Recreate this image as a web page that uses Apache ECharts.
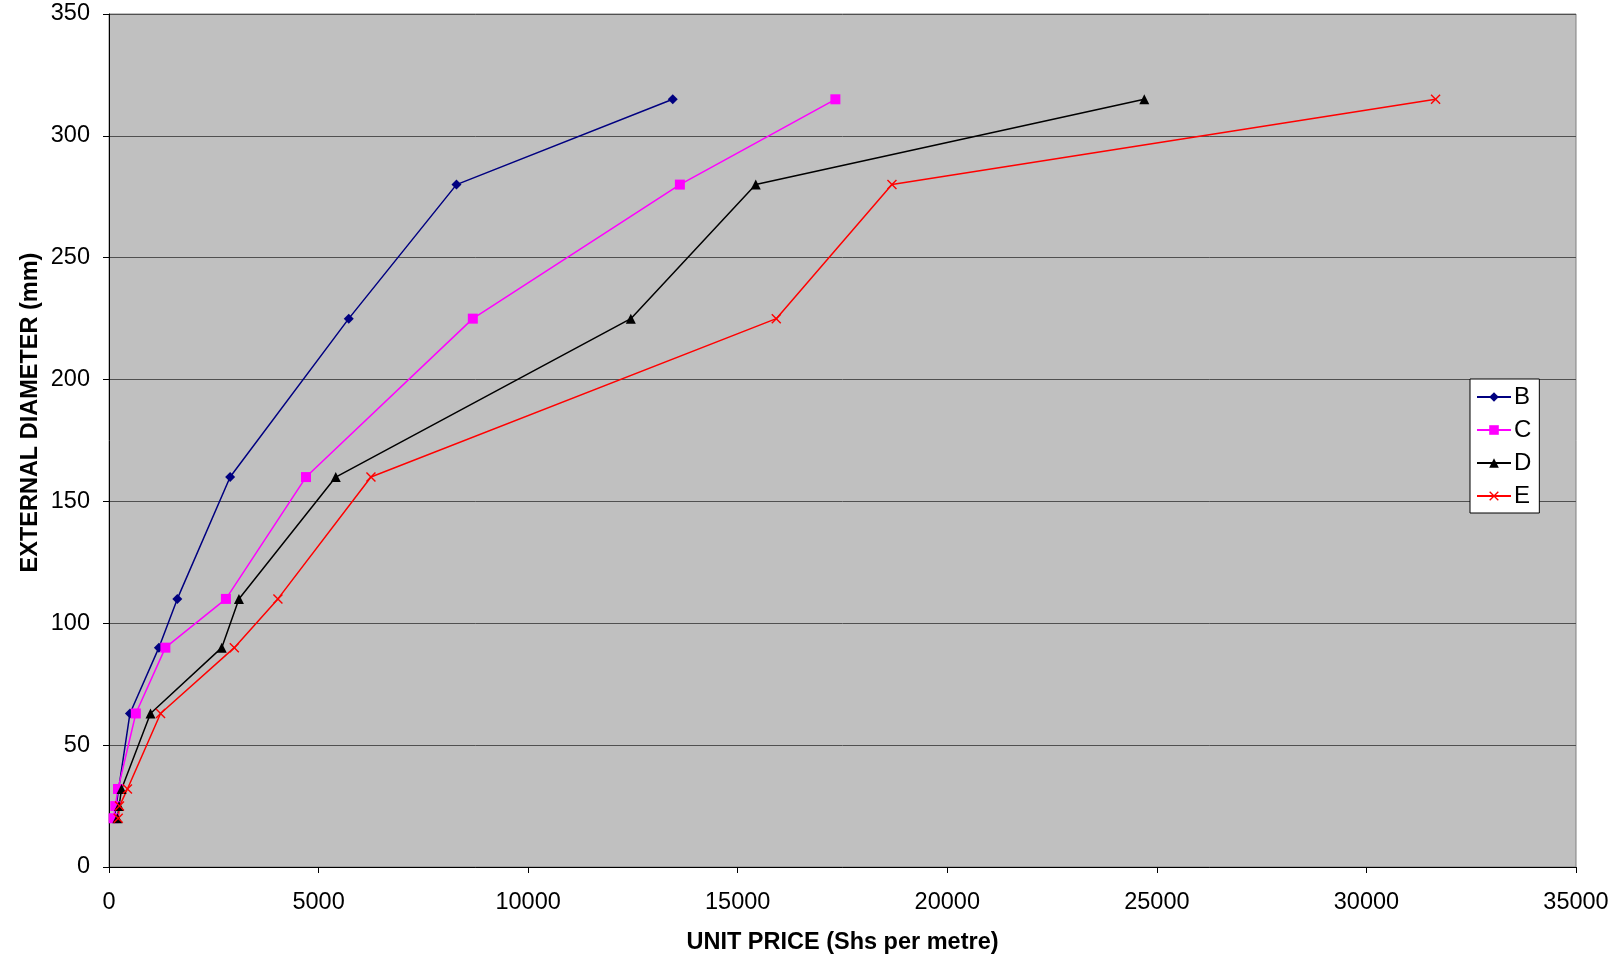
<!DOCTYPE html>
<html>
<head>
<meta charset="utf-8">
<title>External diameter vs unit price</title>
<script src="https://cdn.jsdelivr.net/npm/echarts@6/dist/echarts.min.js"></script>
<style>
  html, body { margin: 0; padding: 0; background: #fff; }
  #chart { width: 1619px; height: 960px; }
</style>
</head>
<body>
<div id="chart"></div>
<script>
// external diameters (mm), shared by every class
var diameters = [20, 25, 32, 63, 90, 110, 160, 225, 280, 315];
// unit price (Shs per metre) for each class
var priceB = [130, 170, 230, 500, 1190, 1630, 2890, 5720, 8290, 13450];
var priceC = [110, 150, 215, 640, 1345, 2790, 4700, 8680, 13620, 17330];
var priceD = [200, 240, 300, 990, 2690, 3100, 5410, 12450, 15430, 24700];
var priceE = [220, 250, 440, 1230, 2990, 4030, 6250, 15920, 18680, 31650];
var xTicks = [0, 5000, 10000, 15000, 20000, 25000, 30000, 35000];
var yTicks = [0, 50, 100, 150, 200, 250, 300, 350];

var font = 'Liberation Sans, Arial, sans-serif';

function pairs (xs) {
  return xs.map(function (x, i) { return [x, diameters[i]]; });
}

// filled "x" shape (excel style cross marker)
var crossPath = 'path://M1,0L5,4L9,0L10,1L6,5L10,9L9,10L5,6L1,10L0,9L4,5L0,1Z';

function makeSeries (name, data, color, symbol, size) {
  return {
    name: name,
    type: 'line',
    data: pairs(data),
    symbol: symbol,
    symbolSize: size,
    showSymbol: true,
    animation: false,
    lineStyle: { color: color, width: 1.5 },
    itemStyle: { color: color }
  };
}

var chart = echarts.init(document.getElementById('chart'));
var option = {
  backgroundColor: '#ffffff',
  textStyle: { fontFamily: font },
  grid: {
    left: 109,
    right: 43,
    top: 14,
    bottom: 93,
    outerBoundsMode: 'none',
    containLabel: false,
    show: true,
    backgroundColor: '#c0c0c0',
    borderColor: '#808080',
    borderWidth: 1
  },
  legend: {
    orient: 'vertical',
    left: 1470,
    top: 379,
    width: 69,
    padding: [6, 8, 5, 6],
    backgroundColor: '#ffffff',
    borderColor: '#000000',
    borderWidth: 1,
    borderRadius: 0,
    itemWidth: 34,
    itemHeight: 12,
    itemGap: 9,
    textStyle: { fontFamily: font, fontSize: 24, color: '#000', padding: [0, 0, 0, -2] },
    data: ['B', 'C', 'D', 'E']
  },
  xAxis: {
    type: 'value',
    min: xTicks[0],
    max: xTicks[xTicks.length - 1],
    interval: 5000,
    name: 'UNIT PRICE (Shs per metre)',
    nameLocation: 'middle',
    nameGap: 64,
    nameTextStyle: { fontFamily: font, fontSize: 23.5, fontWeight: 'bold', color: '#000' },
    axisLine: { show: true, lineStyle: { color: '#000', width: 1 } },
    axisTick: { show: true, length: 6, lineStyle: { color: '#000' } },
    axisLabel: {
      fontFamily: font, fontSize: 23.5, color: '#000', margin: 24,
      formatter: function (v) { return String(v); }
    },
    splitLine: { show: false }
  },
  yAxis: {
    type: 'value',
    min: yTicks[0],
    max: yTicks[yTicks.length - 1],
    interval: 50,
    name: 'EXTERNAL DIAMETER (mm)',
    nameLocation: 'middle',
    nameGap: 66,
    nameMoveOverlap: false,
    nameRotate: 90,
    nameTextStyle: { fontFamily: font, fontSize: 23.5, fontWeight: 'bold', color: '#000', padding: [0, 0, 0, 56] },
    axisLine: { show: true, lineStyle: { color: '#000', width: 1 } },
    axisTick: { show: true, length: 6, lineStyle: { color: '#000' } },
    axisLabel: {
      fontFamily: font, fontSize: 23.5, color: '#000', margin: 19,
      formatter: function (v) { return String(v); }
    },
    splitLine: { show: true, lineStyle: { color: '#505050', width: 1 } }
  },
  series: [
    makeSeries('B', priceB, '#000080', 'diamond', 10),
    makeSeries('C', priceC, '#ff00ff', 'rect', 10),
    makeSeries('D', priceD, '#000000', 'triangle', 10),
    makeSeries('E', priceE, '#ff0000', crossPath, 10)
  ]
};
chart.setOption(option);
</script>
</body>
</html>
